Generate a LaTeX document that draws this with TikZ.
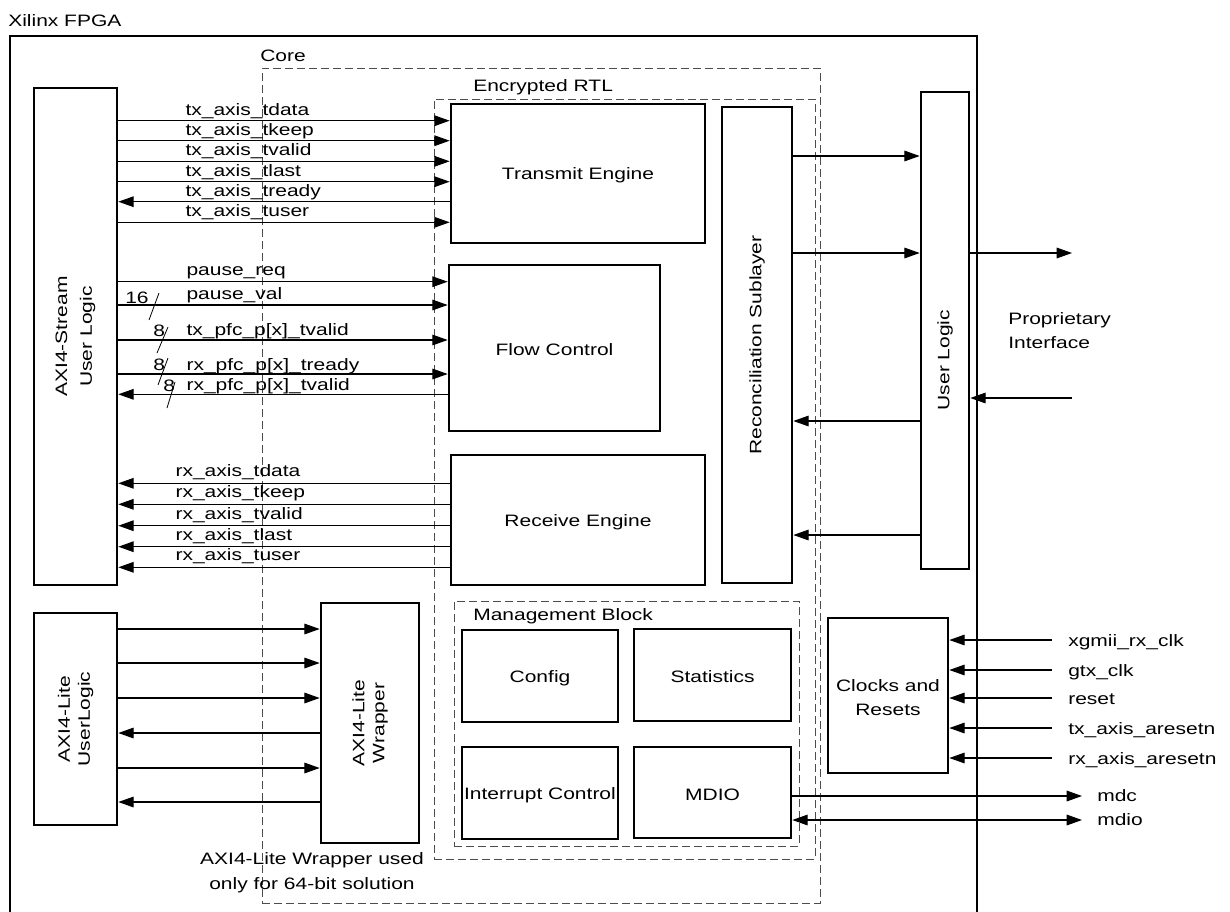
\documentclass[tikz,border=0pt]{standalone}
\usepackage{fontspec}
\setmainfont[FakeStretch=1.27]{Liberation Sans}
\usetikzlibrary{arrows.meta,fit}

\begin{document}
\begin{tikzpicture}[x=0.75pt,y=-0.75pt,font=\fontsize{12.4}{18.5}\selectfont]
	\tikzset{blk/.style={draw,line width=2pt,inner sep=0pt},
		grp/.style={draw=black!70,line width=0.7pt,dash pattern=on 6pt off 3pt,inner sep=0pt},
		sig/.style={line width=0.8pt},
		bus/.style={line width=0.6pt},
		lbl/.style={anchor=base west,inner sep=0pt},
		btxt/.style={align=center,inner sep=0pt,yshift=-1.5pt},
		vtxt/.style={rotate=90,align=center,inner sep=0pt},
		>={Triangle[length=11.5pt,width=8pt]}}
	\useasboundingbox (0,0) rectangle (1230,911);
	\node[blk,line width=2.2pt,fit={(10,36) (977,940)}] (fpga) {};
	\node[lbl] (fpgaT) at (8,26.7) {Xilinx FPGA};
	\node[grp,fit={(262,68) (820,903)}] (core) {};
	\node[lbl] (coreT) at (260,61.7) {Core};
	\node[grp,fit={(434,99) (815,859)}] (rtl) {};
	\node[lbl] (rtlT) at (473,91.7) {Encrypted RTL};
	\node[grp,fit={(454,601) (799,846)}] (mgmt) {};
	\node[lbl] (mgmtT) at (473,620.7) {Management Block};
	% blocks
	\node[blk,fit={(34,88) (117,585)}] (asul) {};
	\node[vtxt] (asulT) at (asul) {AXI4-Stream\\User Logic};
	\node[blk,fit={(451,104) (705,243)}] (txe) {};
	\node[btxt] (txeT) at (txe) {Transmit Engine};
	\node[blk,fit={(449,265) (660,431)}] (fc) {};
	\node[btxt] (fcT) at (fc) {Flow Control};
	\node[blk,fit={(451,455) (705,585)}] (rxe) {};
	\node[btxt] (rxeT) at (rxe) {Receive Engine};
	\node[blk,fit={(722,107) (792,583)}] (rs) {};
	\node[vtxt] (rsT) at (rs) {Reconciliation Sublayer};
	\node[blk,fit={(921,92) (969,569)}] (ul) {};
	\node[vtxt] (ulT) at (945,360) {User Logic};
	\node[blk,fit={(34,613) (117,825)}] (alul) {};
	\node[vtxt,font=\fontsize{12.4}{15}\selectfont] (alulT) at (alul) {AXI4-Lite\\UserLogic};
	\node[blk,fit={(321,603) (419,843)}] (alw) {};
	\node[vtxt,font=\fontsize{12.4}{15}\selectfont] (alwT) at (alw) {AXI4-Lite\\Wrapper};
	\node[blk,fit={(462,630) (618,722)}] (cfg) {};
	\node[btxt] (cfgT) at (cfg) {Config};
	\node[blk,fit={(634,629) (791,721)}] (st) {};
	\node[btxt] (stT) at (st) {Statistics};
	\node[blk,fit={(462,747) (618,839)}] (ic) {};
	\node[btxt] (icT) at (ic) {Interrupt Control};
	\node[blk,fit={(634,747) (791,838)}] (md) {};
	\node[btxt] (mdT) at (md) {MDIO};
	\node[blk,fit={(828,618) (948,773)}] (cr) {};
	\node[btxt] (crT) at (cr) {Clocks and\\Resets};
	% AXI4-Stream
	\foreach \y/\s/\d in {120.7/tdata/->,140.7/tkeep/->,161.3/tvalid/->,181.7/tlast/->,201.7/tready/<-,222.3/tuser/->}
		\draw[sig,\d] (asul.east |- 0,\y) -- (txe.west |- 0,\y) node[lbl] (tx-\s) at (185,\y-5.5) {tx\_axis\_\s};
	\foreach \y/\b/\t/\d [count=\i] in {281.7/275/pause\_req/->,305/299/pause\_val/->,340/335/tx\_pfc\_p[x]\_tvalid/->,374/370/rx\_pfc\_p[x]\_tready/->,394.3/390/rx\_pfc\_p[x]\_tvalid/<-}
		\draw[sig,\d] (asul.east |- 0,\y) -- (fc.west |- 0,\y) node[lbl] (fc-\i) at (186,\b) {\t};
	\foreach \y/\s in {483.3/tdata,504.3/tkeep,525.7/tvalid,546.7/tlast,567.3/tuser}
		\draw[sig,<-] (asul.east |- 0,\y) -- (rxe.west |- 0,\y) node[lbl] (rx-\s) at (175,\y-6.5) {rx\_axis\_\s};
	\draw[bus] (159,293) -- (149,320); \node[lbl] (w16) at (125,303) {16};
	\draw[bus] (168,327) -- (157,353); \node[lbl] (w8a) at (153,336) {8};
	\draw[bus] (168,358) -- (158,385); \node[lbl] (w8b) at (153,370) {8};
	\draw[bus] (175,382) -- (167,408); \node[lbl] (w8c) at (163,391) {8};
	% AXI4-Lite
	\foreach \y/\d in {629/->,663/->,698/->,733/<-,768/->,802/<-}
		\draw[sig,\d] (alul.east |- 0,\y) -- (alw.west |- 0,\y);
	\node[btxt] (note) at (312,871) {AXI4-Lite Wrapper used\\only for 64-bit solution};
	% right side
	\foreach \y/\d in {156/->,253/->,421/<-,535/<-}
		\draw[sig,\d] (rs.east |- 0,\y) -- (ul.west |- 0,\y);
	\coordinate (pout) at (1072,253);
	\coordinate (pin) at (1072,398);
	\draw[sig,->] (ul.east |- pout) -- (pout);
	\draw[sig,->] (pin) -- (ul.east |- pin);
	\node[anchor=west,align=left,inner sep=0pt] (prop) at (1008,330.5) {Proprietary\\Interface};
	\foreach \y/\s [count=\i] in {640/xgmii\_rx\_clk,670/gtx\_clk,698/reset,728/tx\_axis\_aresetn,758/rx\_axis\_aresetn}{
		\coordinate (ci\i) at (1052,\y);
		\draw[sig,<-] (cr.east |- ci\i) -- (ci\i);
		\node[lbl] (ck\i) at (1068,\y+6) {\s};}
	\coordinate (mdcE) at (1082,796);
	\coordinate (mdioE) at (1082,820);
	\draw[sig,->] (md.east |- mdcE) -- (mdcE);
	\draw[sig,<->] (md.east |- mdioE) -- (mdioE);
	\node[lbl] (mdcT) at (1097,801) {mdc};
	\node[lbl] (mdioT) at (1097,825) {mdio};
\end{tikzpicture}
\end{document}
